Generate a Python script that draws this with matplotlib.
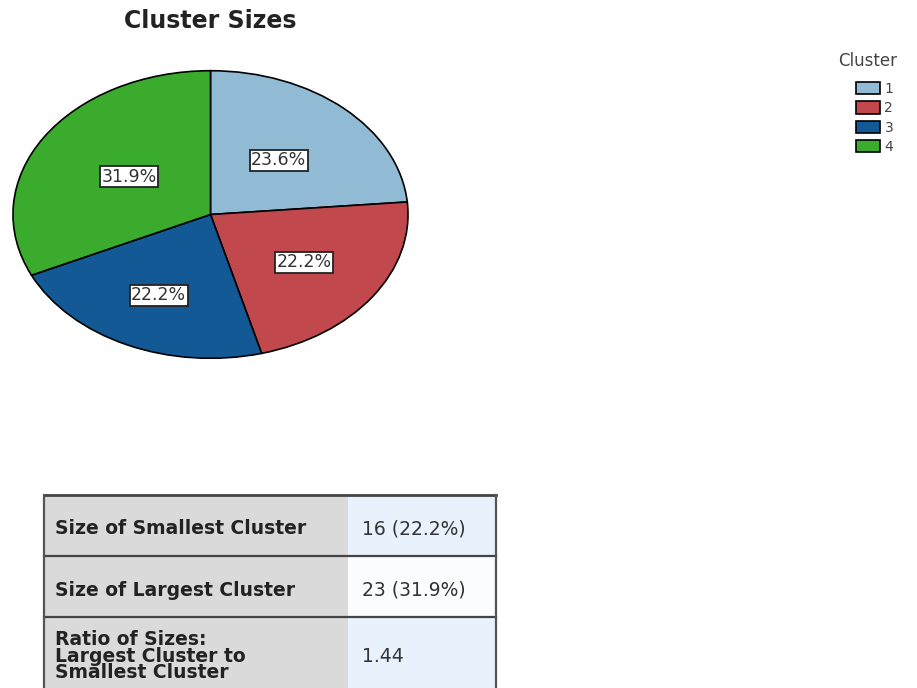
import matplotlib
matplotlib.use('Agg')
import matplotlib.pyplot as plt
from matplotlib.patches import Rectangle

plt.rcParams['font.family'] = ['DejaVu Sans']

# cluster counts (72 cases in total)
clusters = ['1', '2', '3', '4']
counts = [17, 16, 16, 23]
colors = ['#91bad4', '#c1494e', '#135995', '#3aab2d']

# model summary table
table_labels = ['Size of Smallest Cluster',
                'Size of Largest Cluster',
                'Ratio of Sizes:\nLargest Cluster to\nSmallest Cluster']
table_values = ['16 (22.2%)', '23 (31.9%)', '1.44']

W, H = 917, 688
fig = plt.figure(figsize=(W / 100, H / 100), dpi=100)

# pie axes, sized in pixels so the pie comes out as an ellipse like the original
px = lambda x0, y0, x1, y1: [x0 / W, 1 - y1 / H, (x1 - x0) / W, (y1 - y0) / H]
ax = fig.add_axes(px(12, 70, 409, 359))
wedges, texts, autotexts = ax.pie(
    counts, colors=colors, startangle=90, counterclock=False,
    autopct='%1.1f%%', pctdistance=0.55,
    wedgeprops=dict(edgecolor='black', linewidth=1.2),
    textprops=dict(fontsize=12.5, color='#333333'))
# label distance per slice (SPSS doesn't put them all on one radius)
label_dist = [0.51, 0.58, 0.62, 0.49]
for t, d in zip(autotexts, label_dist):
    x, y = t.get_position()
    t.set_position((x * d / 0.55, y * d / 0.55))
    t.set_bbox(dict(facecolor='white', edgecolor='#222222', linewidth=1.3, pad=1.0))
ax.set_aspect('auto')
ax.set_xlim(-1.005, 1.005)
ax.set_ylim(-1.005, 1.005)
fig.text(210 / W, 1 - 21 / H, 'Cluster Sizes', ha='center', va='center',
         fontsize=17, fontweight='bold', color='#222222')

# legend
fig.text(838 / W, 1 - 61 / H, 'Cluster', ha='left', va='center', fontsize=12, color='#444444')
fig.legend(wedges, clusters, loc='upper left', bbox_to_anchor=(856 / W, 1 - 82 / H),
           frameon=False, fontsize=10, handlelength=1.75, handleheight=1.0,
           handletextpad=0.3, labelspacing=0.38, borderpad=0, borderaxespad=0,
           labelcolor='#444444')

# summary table drawn on a pixel-coordinate overlay
tx = fig.add_axes([0, 0, 1, 1])
tx.set_xlim(0, W)
tx.set_ylim(H, 0)
tx.axis('off')
row_edges = [495, 556, 617, 690]
text_y = [529, 590, 656]
left, split, right = 44, 348, 496
right_fill = ['#e8f2fc', '#fbfcfe', '#e8f2fc']
for i, (lab, val) in enumerate(zip(table_labels, table_values)):
    y0, y1 = row_edges[i], row_edges[i + 1]
    tx.add_patch(Rectangle((left, y0), split - left, y1 - y0, facecolor='#dadada',
                           edgecolor='none'))
    tx.add_patch(Rectangle((split, y0), right - split, y1 - y0, facecolor=right_fill[i],
                           edgecolor='none'))
    tx.text(55, text_y[i], lab, ha='left', va='center', fontsize=13.5, fontweight='bold',
            color='#222222', linespacing=0.82)
    tx.text(362, text_y[i], val, ha='left', va='center', fontsize=13.5, color='#333333')
for y in row_edges:
    tx.plot([left, right], [y, y], color='#444444', lw=2 if y == 495 else 1.6)
tx.plot([left, left], [495, 690], color='#555555', lw=1.6)
tx.plot([right, right], [495, 690], color='#555555', lw=1.6)

fig.savefig('out.png', dpi=100)
